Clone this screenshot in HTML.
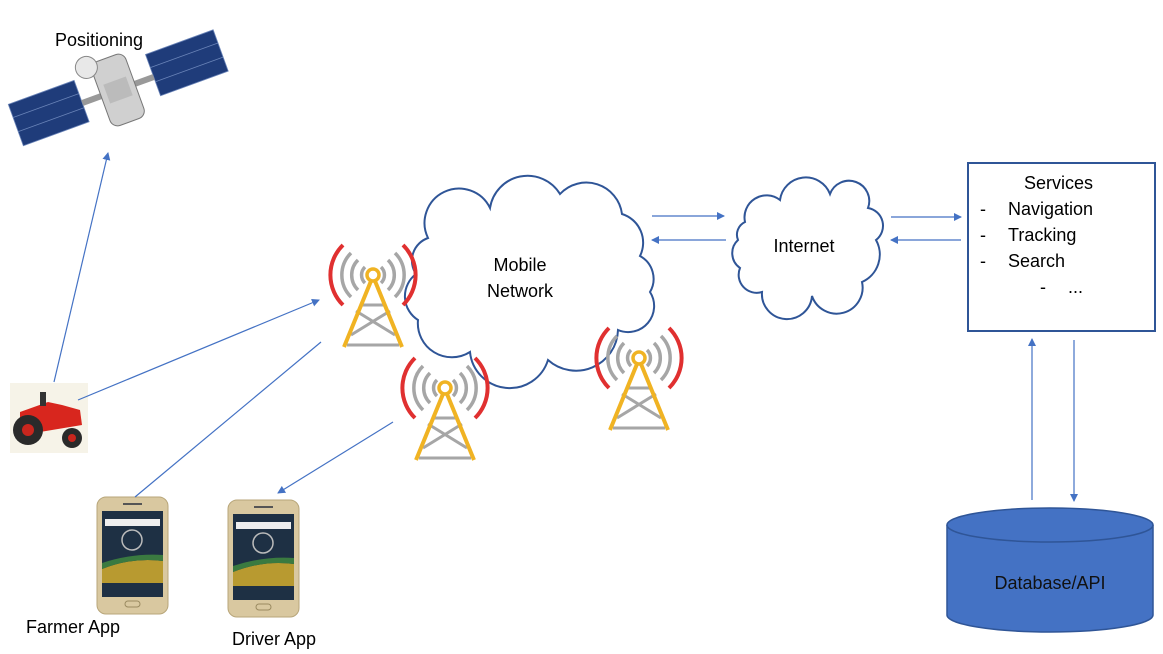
<!DOCTYPE html>
<html><head><style>body{margin:0;background:#fff}svg{display:block}text{font-family:"Liberation Sans",sans-serif;font-size:18px;fill:#000}</style></head>
<body>
<svg width="1163" height="654" viewBox="0 0 1163 654" xmlns="http://www.w3.org/2000/svg">
<defs>
<marker id="ar" markerWidth="8" markerHeight="8" refX="7" refY="4" orient="auto" markerUnits="userSpaceOnUse"><path d="M0,0 L8,4 L0,8 z" fill="#4472c4"/></marker>
<g id="tower">
<path d="M-30,-30 A42,42 0 0 0 -30,30 M30,-30 A42,42 0 0 1 30,30" fill="none" stroke="#e03030" stroke-width="4"/>
<path d="M-22,-22 A31,31 0 0 0 -22,22 M22,-22 A31,31 0 0 1 22,22 M-15,-15 A21,21 0 0 0 -15,15 M15,-15 A21,21 0 0 1 15,15 M-8,-8 A11,11 0 0 0 -8,8 M8,-8 A11,11 0 0 1 8,8" fill="none" stroke="#a6a6a6" stroke-width="3.5"/>
<path d="M-22,60 L17,36 M22,60 L-17,36 M-12,30 L12,30 M-26,70 L26,70" stroke="#a6a6a6" stroke-width="3" fill="none"/>
<path d="M-2,6 L-29,72 M2,6 L29,72" stroke="#f0b323" stroke-width="4" fill="none"/>
<circle cx="0" cy="0" r="6" fill="#fff" stroke="#f0b323" stroke-width="3.5"/>
</g>
<g id="phone">
<rect x="0" y="0" width="71" height="117" rx="9" fill="#d9c8a0" stroke="#b8a67a"/>
<rect x="5" y="14" width="61" height="86" fill="#1e3044"/>
<rect x="8" y="22" width="55" height="7" fill="#eee"/>
<circle cx="35" cy="43" r="10" fill="none" stroke="#bbb" stroke-width="1.5"/>
<path d="M5,72 Q35,60 66,64 L66,86 L5,86z" fill="#b89a30"/>
<path d="M5,66 Q35,56 66,58 L66,64 Q35,60 5,72z" fill="#3a7a40"/>
<rect x="28" y="104" width="15" height="6" rx="3" fill="none" stroke="#9a8a60"/>
<rect x="26" y="6" width="19" height="2" fill="#555"/>
</g>
</defs>

<!-- satellite -->
<g transform="translate(118,90) rotate(-20)">
<g fill="#1f3c7a" stroke="#6a84b8" stroke-width="0.8">
<rect x="-108" y="-24" width="70" height="44"/><rect x="38" y="-24" width="72" height="44"/>
</g>
<path d="M-108,-10 H-38 M-108,5 H-38 M38,-10 H110 M38,5 H110" stroke="#6a84b8" stroke-width="0.8"/>
<rect x="-38" y="-3" width="76" height="6" fill="#999"/>
<rect x="-18" y="-34" width="36" height="68" rx="8" fill="#d0d0d0" stroke="#777"/>
<circle cx="-22" cy="-32" r="11" fill="#e8e8e8" stroke="#888"/>
<rect x="-12" y="-10" width="24" height="20" fill="#bbb"/>
</g>
<text x="55" y="46">Positioning</text>

<!-- tractor -->
<rect x="10" y="383" width="78" height="70" fill="#f6f3e8"/>
<path d="M20,412 L48,402 L62,405 L80,410 L82,425 L40,432 L20,430z" fill="#d8261e"/>
<rect x="40" y="392" width="6" height="14" fill="#333"/>
<circle cx="28" cy="430" r="15" fill="#2a2a2a"/><circle cx="28" cy="430" r="6" fill="#c9261e"/>
<circle cx="72" cy="438" r="10" fill="#2a2a2a"/><circle cx="72" cy="438" r="4" fill="#c9261e"/>

<!-- phones -->
<use href="#phone" x="97" y="497"/>
<use href="#phone" x="228" y="500"/>
<text x="26" y="633">Farmer App</text>
<text x="232" y="645">Driver App</text>

<!-- mobile cloud -->
<path d="M428,238 A32,32 0 0 1 490,208 A38,38 0 0 1 560,194 A36,36 0 0 1 622,214 A30,30 0 0 1 640,256 A26,26 0 0 1 650,292 A26,26 0 0 1 618,330 A42,42 0 0 1 548,360 A40,40 0 0 1 470,352 A34,34 0 0 1 418,320 A28,28 0 0 1 416,274 A24,24 0 0 1 428,238 z" fill="#fff" stroke="#2f5597" stroke-width="2"/>
<text x="520" y="271" text-anchor="middle">Mobile</text>
<text x="520" y="297" text-anchor="middle">Network</text>

<!-- internet cloud -->
<path d="M745,222 A22,22 0 0 1 780,200 A26,26 0 0 1 830,194 A20,20 0 0 1 868,208 A18,18 0 0 1 876,240 A30,30 0 0 1 862,282 A26,26 0 0 1 812,296 A24,24 0 0 1 762,292 A18,18 0 0 1 740,268 A18,18 0 0 1 738,240 A14,14 0 0 1 745,222 z" fill="#fff" stroke="#2f5597" stroke-width="2"/>
<text x="804" y="252" text-anchor="middle">Internet</text>

<!-- towers -->
<use href="#tower" x="373" y="275"/>
<use href="#tower" x="445" y="388"/>
<use href="#tower" x="639" y="358"/>

<!-- services -->
<rect x="968" y="163" width="187" height="168" fill="#fff" stroke="#2f5597" stroke-width="2"/>
<text x="1024" y="189">Services</text>
<text x="980" y="215">-</text><text x="1008" y="215">Navigation</text>
<text x="980" y="241">-</text><text x="1008" y="241">Tracking</text>
<text x="980" y="267">-</text><text x="1008" y="267">Search</text>
<text x="1040" y="293">-</text><text x="1068" y="293">...</text>

<!-- database -->
<path d="M947,525 L947,615 A103,17 0 0 0 1153,615 L1153,525" fill="#4472c4" stroke="#2f5597" stroke-width="1.5"/>
<ellipse cx="1050" cy="525" rx="103" ry="17" fill="#4472c4" stroke="#2f5597" stroke-width="1.5"/>
<text x="1050" y="589" text-anchor="middle" style="fill:#111">Database/API</text>

<!-- connectors -->
<g stroke="#4472c4" stroke-width="1.2" fill="none">
<line x1="54" y1="382" x2="108" y2="153" marker-end="url(#ar)"/>
<line x1="78" y1="400" x2="319" y2="300" marker-end="url(#ar)"/>
<line x1="135" y1="497" x2="321" y2="342"/>
<line x1="393" y1="422" x2="278" y2="493" marker-end="url(#ar)"/>
<line x1="652" y1="216" x2="724" y2="216" marker-end="url(#ar)"/>
<line x1="726" y1="240" x2="652" y2="240" marker-end="url(#ar)"/>
<line x1="891" y1="217" x2="961" y2="217" marker-end="url(#ar)"/>
<line x1="961" y1="240" x2="891" y2="240" marker-end="url(#ar)"/>
<line x1="1032" y1="500" x2="1032" y2="339" marker-end="url(#ar)"/>
<line x1="1074" y1="340" x2="1074" y2="501" marker-end="url(#ar)"/>
</g>
</svg>
</body></html>
